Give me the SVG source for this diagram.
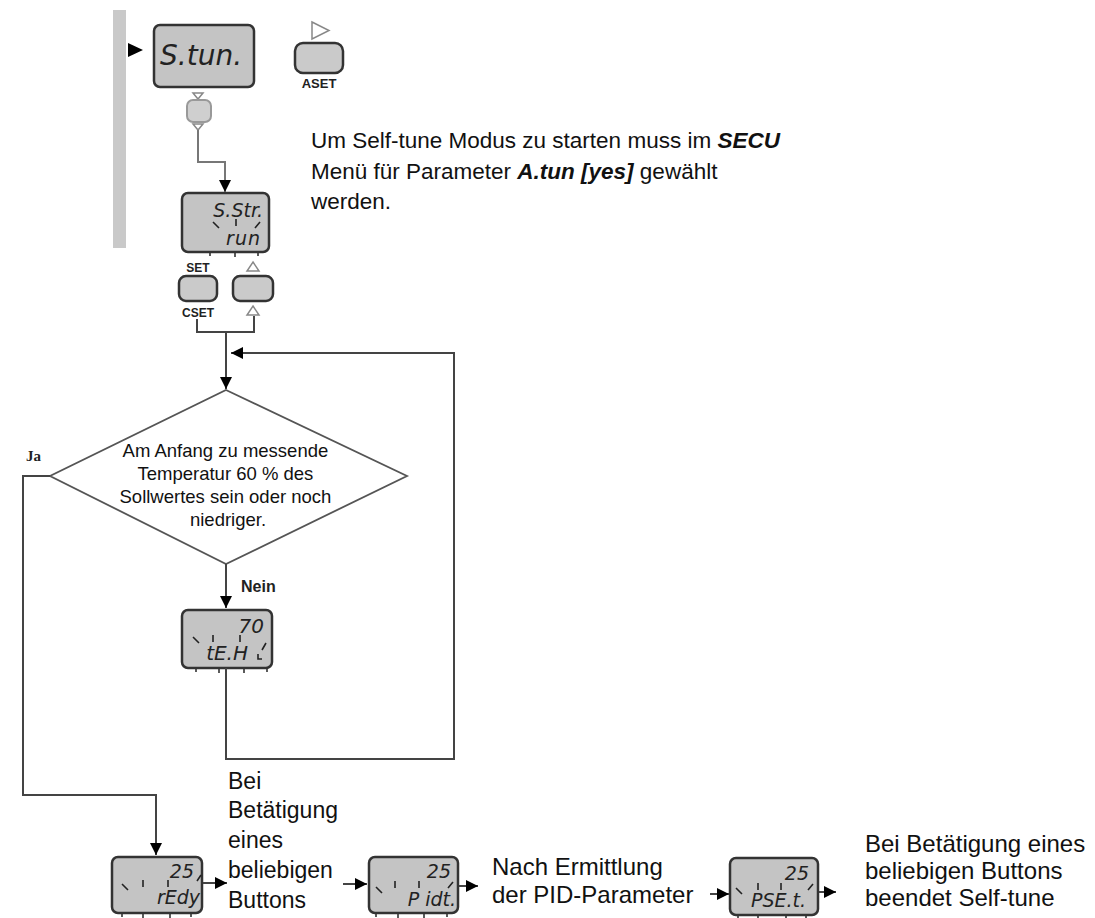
<svg xmlns="http://www.w3.org/2000/svg" width="1095" height="918" viewBox="0 0 1095 918">
<style>
.disp{fill:#c4c4c4;stroke:#333;stroke-width:2.5}
.btn{fill:#cacaca;stroke:#333;stroke-width:2.5}
.seg{font-family:"DejaVu Sans",sans-serif;font-style:italic;font-weight:300;fill:#222}
.blink{stroke:#222;stroke-width:1.6;fill:none}
.tick{stroke:#333;stroke-width:1.6}
.lbl{font-family:"Liberation Sans",Arial,sans-serif;fill:#111}
.blbl{font-family:"Liberation Sans",Arial,sans-serif;font-weight:bold;fill:#222}
.tri{fill:#fff;stroke:#888;stroke-width:1.5}
.con{fill:none;stroke:#444;stroke-width:2}
</style>
<defs>
<marker id="ahL" viewBox="0 0 10 10" refX="10" refY="5" markerWidth="12" markerHeight="12" markerUnits="userSpaceOnUse" orient="auto">
<path d="M0,0 L10,5 L0,10 Z" fill="#000"/>
</marker>
</defs>
<rect width="1095" height="918" fill="#fff"/>

<!-- gray bar and start marker -->
<rect x="113" y="10" width="13" height="238" fill="#c9c9c9"/>
<path d="M128,43 L143,50 L128,57 Z" fill="#000"/>

<g id="stun">
<rect class="disp" x="154" y="25" width="100" height="62" rx="6"/>
<text class="seg" x="160" y="65" font-size="28">S.tun.</text>
</g>

<g id="aset">
<path class="tri" d="M312,22 L329,30.5 L312,39 Z"/>
<rect class="btn" x="295" y="43" width="48" height="30" rx="8"/>
<text class="blbl" x="319" y="88" font-size="13" text-anchor="middle">ASET</text>
</g>

<g id="smallbtn">
<path class="tri" d="M193,93 L203,93 L198,99 Z"/>
<rect x="187" y="100" width="24" height="22" rx="6" fill="#cfcfcf" stroke="#999" stroke-width="2"/>
<path class="tri" d="M193,124 L203,124 L198,130 Z"/>
</g>

<g id="hint">
<text class="lbl" x="311" y="148" font-size="22.5">Um Self-tune Modus zu starten muss im <tspan font-weight="bold" font-style="italic">SECU</tspan></text>
<text class="lbl" x="311" y="179" font-size="22.5">Menü für Parameter <tspan font-weight="bold" font-style="italic">A.tun [yes]</tspan> gewählt</text>
<text class="lbl" x="311" y="209" font-size="22.5">werden.</text>
</g>

<g id="sstr">
<rect class="disp" x="182" y="193" width="87" height="59" rx="6"/>
<text class="seg" x="263" y="217" font-size="19" text-anchor="end">S.Str.</text>
<text class="seg" x="261" y="245" font-size="19" text-anchor="end" letter-spacing="1">run</text>
<path class="blink" d="M213,222 L219,228 M236,219 L236,226 M260,222 L255,228"/>
<path class="tick" d="M210,252 V256 M235,252 V257 M258,252 V256"/>
</g>

<g id="setbtns">
<text class="blbl" x="198" y="272" font-size="12" text-anchor="middle">SET</text>
<rect class="btn" x="179" y="276" width="38" height="25" rx="7"/>
<text class="blbl" x="198" y="317" font-size="12" text-anchor="middle">CSET</text>
<path class="tri" d="M253,262 L259,271 L247,271 Z"/>
<rect class="btn" x="233" y="276" width="40" height="25" rx="7"/>
<path class="tri" d="M253,306 L259,315 L247,315 Z"/>
</g>

<g id="decision">
<path d="M226,390 L407,476 L226,564 L50,476 Z" fill="#fff" stroke="#555" stroke-width="1.8"/>
<text class="lbl" font-size="18.5" text-anchor="middle" fill="#333">
<tspan x="228" y="457">Am Anfang zu messende</tspan>
<tspan x="228" y="480">Temperatur 60 % des</tspan>
<tspan x="228" y="503">Sollwertes sein oder noch</tspan>
<tspan x="228" y="526">niedriger.</tspan>
</text>
</g>

<g id="labels">
<text x="26" y="461" font-family="Liberation Serif,serif" font-weight="bold" font-size="15" fill="#222">Ja</text>
<text class="blbl" x="241" y="592" font-size="16">Nein</text>
</g>

<g id="teh">
<rect class="disp" x="182" y="610" width="90" height="58" rx="6"/>
<text class="seg" x="264" y="633" font-size="20" text-anchor="end">70</text>
<text class="seg" x="248" y="660" font-size="20" text-anchor="end">tE.H</text>
<path class="blink" d="M193,637 L199,643 M213,635 L213,642 M240,635 L240,642 M266,643 L262,650 M258,654 L258,659 L262,659"/>
<path class="tick" d="M196,668 V672 M219,668 V673 M244,668 V673 M267,668 V672"/>
</g>

<g id="redy">
<rect class="disp" x="112" y="857" width="90" height="56" rx="6"/>
<text class="seg" x="194" y="878" font-size="19" text-anchor="end">25</text>
<text class="seg" x="200" y="904" font-size="19" text-anchor="end">rEdy</text>
<path class="blink" d="M122,884 L128,890 M143,880 L143,887 M168,880 L168,887 M197,881 L201,875"/>
<path class="tick" d="M122,913 V917 M143,913 V918 M170,913 V918 M191,913 V917"/>
</g>
<text class="lbl" font-size="23">
<tspan x="228" y="789">Bei</tspan>
<tspan x="228" y="818">Betätigung</tspan>
<tspan x="228" y="848">eines</tspan>
<tspan x="228" y="878">beliebigen</tspan>
<tspan x="228" y="908">Buttons</tspan>
</text>

<g id="pidt">
<rect class="disp" x="369" y="857" width="89" height="56" rx="6"/>
<text class="seg" x="451" y="878" font-size="19" text-anchor="end">25</text>
<text class="seg" x="456" y="906" font-size="19" text-anchor="end">P idt.</text>
<path class="blink" d="M376,887 L382,893 M395,881 L395,888 M419,881 L419,888 M448,888 L453,882"/>
<path class="tick" d="M376,913 V917 M398,913 V918 M424,913 V918 M447,913 V917"/>
</g>
<text class="lbl" font-size="24">
<tspan x="492" y="875">Nach Ermittlung</tspan>
<tspan x="492" y="903">der PID-Parameter</tspan>
</text>

<g id="pset">
<rect class="disp" x="730" y="858" width="88" height="57" rx="6"/>
<text class="seg" x="809" y="880" font-size="19" text-anchor="end">25</text>
<text class="seg" x="806" y="907" font-size="19" text-anchor="end">PSE.t.</text>
<path class="blink" d="M736,888 L742,894 M758,883 L758,890 M781,883 L781,890 M808,890 L813,884"/>
<path class="tick" d="M738,915 V918 M758,915 V918 M786,915 V918 M806,915 V918"/>
</g>
<text class="lbl" font-size="24">
<tspan x="865" y="852">Bei Betätigung eines</tspan>
<tspan x="865" y="879">beliebigen Buttons</tspan>
<tspan x="865" y="906">beendet Self-tune</tspan>
</text>

<g id="connectors">
<path d="M198,130 V162 H225 V192" fill="none" stroke="#777" stroke-width="2" marker-end="url(#ahL)"/>
<path class="con" d="M197,319 V332 H254 V316"/>
<path class="con" d="M226,332 V389" marker-end="url(#ahL)"/>
<path class="con" d="M226,668 V759 H454 V353 H231" marker-end="url(#ahL)"/>
<path class="con" d="M226,564 V608" marker-end="url(#ahL)"/>
<path class="con" d="M50,476 H23 V795 H156 V855" marker-end="url(#ahL)"/>
<path class="con" d="M203,883 H227" stroke="#000" marker-end="url(#ahL)"/>
<path class="con" d="M343,884 H367" stroke="#000" marker-end="url(#ahL)"/>
<path class="con" d="M459,886 H478" stroke="#000" marker-end="url(#ahL)"/>
<path class="con" d="M710,894 H729" stroke="#000" marker-end="url(#ahL)"/>
<path class="con" d="M819,892 H836" stroke="#000" marker-end="url(#ahL)"/>
</g>
</svg>
